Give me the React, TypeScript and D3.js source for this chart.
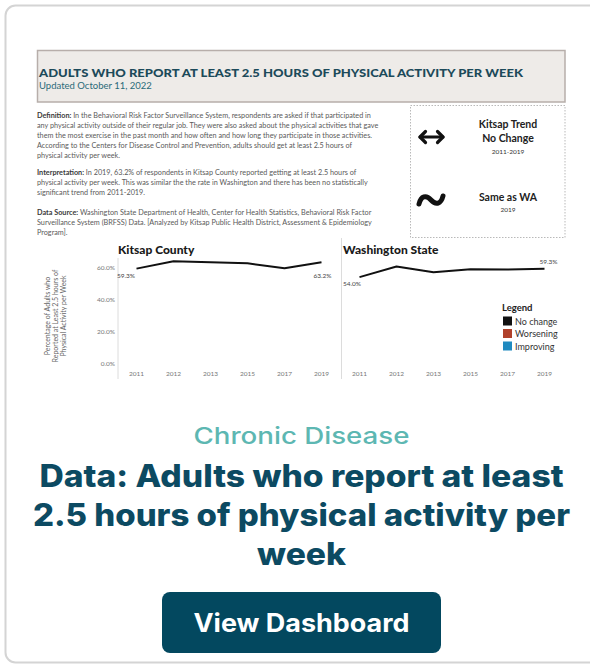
import React from "react";
import * as d3 from "d3";

const years = ["2011", "2012", "2013", "2015", "2017", "2019"];
const kitsapValues = [59.3, 63.9, 63.3, 62.6, 59.6, 63.2];
const waValues = [54.0, 60.6, 57.0, 58.9, 58.7, 59.3];
const yTicks = [0, 20, 40, 60];
const legendLabels = ["No change", "Worsening", "Improving"];
const legendColors = ["#111111", "#b0412b", "#1f8ac0"];

const headerTitle = "ADULTS WHO REPORT AT LEAST 2.5 HOURS OF PHYSICAL ACTIVITY PER WEEK";
const headerUpdated = "Updated October 11, 2022";

const definitionLines = [
  "In the Behavioral Risk Factor Surveillance System, respondents are asked if that participated in",
  "any physical activity outside of their regular job. They were also asked about the physical activities that gave",
  "them the most exercise in the past month and how often and how long they participate in those activities.",
  "According to the Centers for Disease Control and Prevention, adults should get at least 2.5 hours of",
  "physical activity per week.",
];
const interpretationLines = [
  "In 2019, 63.2% of respondents in Kitsap County reported getting at least 2.5 hours of",
  "physical activity per week. This was similar the the rate in Washington and there has been no statistically",
  "significant trend from 2011-2019.",
];
const dataSourceLines = [
  "Washington State Department of Health, Center for Health Statistics, Behavioral Risk Factor",
  "Surveillance System (BRFSS) Data. [Analyzed by Kitsap Public Health District, Assessment & Epidemiology",
  "Program].",
];
const yAxisTitleLines = [
  "Percentage of Adults who",
  "Reported at Least 2.5 hours of",
  "Physical Activity per Week",
];
const cardCategory = "Chronic Disease";
const cardTitleLines = [
  "Data: Adults who report at least",
  "2.5 hours of physical activity per",
  "week",
];
const cardTitleWidths = [524, 537, 89];
const buttonLabel = "View Dashboard";

const thumbFont = "Lato, 'Open Sans', sans-serif";
const cardFont = "Inter, 'Open Sans', sans-serif";

function Block({ label, lines, y0 }: { label: string; lines: string[]; y0: number }) {
  return (
    <g fontFamily={thumbFont} fontSize={7.25} fill="#5a5a5a">
      {lines.map((l, i) => (
        <text key={i} x={37} y={y0 + i * 10}>
          {i === 0 ? (
            <tspan fontWeight={700} fill="#3a3a3a">{label} </tspan>
          ) : null}
          {l}
        </text>
      ))}
    </g>
  );
}

export default function App() {
  const y = d3.scaleLinear().domain([0, 60]).range([364, 267.5]);
  const xK = d3.scalePoint<string>().domain(years).range([118, 340]).padding(0.5);
  const xW = d3.scalePoint<string>().domain(years).range([341, 563]).padding(0.5);
  const line = (xs: d3.ScalePoint<string>) =>
    d3
      .line<number>()
      .x((_, i) => xs(years[i]) as number)
      .y((v) => y(v))
      .curve(d3.curveLinear);
  const fmt = (v: number) => v.toFixed(1) + "%";
  const kLast = kitsapValues.length - 1;

  return (
    <svg
      width={590}
      height={666}
      style={{ position: "absolute", left: 0, top: 0, background: "#fff" }}
    >
      {/* card */}
      <rect x={5.5} y={5.5} width={640} height={657} rx={10} fill="#fff" stroke="#d4d4d4" strokeWidth={2} />

      {/* header box */}
      <rect x={37.5} y={50.5} width={527.5} height={51.5} fill="#eeebe8" stroke="#b7aeaa" strokeWidth={1.5} />
      <text x={39} y={76.5} fontFamily={thumbFont} fontWeight={900} fontSize={11.5} fill="#1c4a5a" textLength={484} lengthAdjust="spacingAndGlyphs">
        {headerTitle}
      </text>
      <text x={39} y={88.5} fontFamily={thumbFont} fontSize={9.5} fill="#2b6a78">
        {headerUpdated}
      </text>

      {/* text blocks */}
      <Block label="Definition:" lines={definitionLines} y0={117.5} />
      <Block label="Interpretation:" lines={interpretationLines} y0={174.5} />
      <Block label="Data Source:" lines={dataSourceLines} y0={214.5} />

      {/* trend box */}
      <rect x={410.5} y={105.5} width={154.5} height={132} fill="none" stroke="#b9b9b9" strokeWidth={1} strokeDasharray="1.5,1.5" />
      <g stroke="#111" strokeWidth={3.2} fill="none" strokeLinecap="round" strokeLinejoin="round">
        <path d="M420,137 L443,137" />
        <path d="M425.5,131.5 L420,137 L425.5,142.5" />
        <path d="M437.5,131.5 L443,137 L437.5,142.5" />
        <path d="M419,204 C421,196 426,194.5 431,200 C436,205.5 441,204 443,196" strokeWidth={5} />
      </g>
      <g fontFamily={thumbFont} textAnchor="middle" fill="#222">
        <text x={508} y={127.5} fontSize={10.5} fontWeight={700}>Kitsap Trend</text>
        <text x={508} y={141.5} fontSize={10.5} fontWeight={700}>No Change</text>
        <text x={508} y={154} fontSize={6.5} fill="#333">2011-2019</text>
        <text x={508} y={201} fontSize={10.5} fontWeight={700}>Same as WA</text>
        <text x={508} y={212} fontSize={6.5} fill="#333">2019</text>
      </g>

      {/* y axis title */}
      <g fontFamily={thumbFont} fontSize={7} fill="#666" textAnchor="middle">
        {yAxisTitleLines.map((t, i) => (
          <text key={i} transform={`translate(${49.5 + i * 8.3},316) rotate(-90)`}>
            {t}
          </text>
        ))}
      </g>

      {/* y ticks */}
      <g fontFamily={thumbFont} fontSize={6.5} fill="#777" textAnchor="end">
        {yTicks.map((t) => (
          <text key={t} x={115} y={y(t) + 2.3}>
            {t.toFixed(1)}%
          </text>
        ))}
      </g>

      {/* separators */}
      <line x1={118} x2={118} y1={258} y2={379} stroke="#dcdcdc" strokeWidth={1} />
      <line x1={341.5} x2={341.5} y1={238} y2={379} stroke="#dcdcdc" strokeWidth={1} />

      {/* titles */}
      <text x={118} y={254} fontFamily={thumbFont} fontWeight={900} fontSize={12} fill="#1a1a1a">Kitsap County</text>
      <text x={343} y={254} fontFamily={thumbFont} fontWeight={900} fontSize={12} fill="#1a1a1a">Washington State</text>

      {/* x labels */}
      <g fontFamily={thumbFont} fontSize={6.5} fill="#777" textAnchor="middle">
        {years.map((yr) => (
          <text key={"k" + yr} x={xK(yr)} y={375.5}>{yr}</text>
        ))}
        {years.map((yr) => (
          <text key={"w" + yr} x={xW(yr)} y={375.5}>{yr}</text>
        ))}
      </g>

      {/* lines */}
      <path d={line(xK)(kitsapValues) || ""} fill="none" stroke="#111" strokeWidth={2} strokeLinejoin="round" />
      <path d={line(xW)(waValues) || ""} fill="none" stroke="#111" strokeWidth={2} strokeLinejoin="round" />

      {/* value labels */}
      <g fontFamily={thumbFont} fontSize={6.5} fill="#444">
        <text x={117} y={y(kitsapValues[0]) + 9}>{fmt(kitsapValues[0])}</text>
        <text x={(xK(years[kLast]) as number) + 10} y={y(kitsapValues[kLast]) + 16} textAnchor="end">{fmt(kitsapValues[kLast])}</text>
        <text x={343} y={y(waValues[0]) + 8.5}>{fmt(waValues[0])}</text>
        <text x={(xW(years[kLast]) as number) + 13} y={y(waValues[kLast]) - 4.5} textAnchor="end">{fmt(waValues[kLast])}</text>
      </g>

      {/* legend */}
      <g fontFamily={thumbFont}>
        <text x={502} y={311} fontSize={9.5} fontWeight={700} fill="#222">Legend</text>
        {legendLabels.map((l, i) => (
          <g key={l}>
            <rect x={503} y={316.5 + i * 12.5} width={9} height={9} fill={legendColors[i]} />
            <text x={515} y={324.5 + i * 12.5} fontSize={9} fill="#333">{l}</text>
          </g>
        ))}
      </g>

      {/* card text */}
      <text x={301.5} y={444} textAnchor="middle" fontFamily={cardFont} fontWeight={500} fontSize={23} fill="#5db7b2" textLength={216} lengthAdjust="spacingAndGlyphs">
        {cardCategory}
      </text>
      {cardTitleLines.map((t, i) => (
        <text key={i} x={301.5} y={487 + i * 39} textAnchor="middle" fontFamily={cardFont} fontWeight={800} fontSize={31} fill="#0c4a62" textLength={cardTitleWidths[i]} lengthAdjust="spacingAndGlyphs">
          {t}
        </text>
      ))}

      {/* button */}
      <rect x={162} y={592} width={279} height={61} rx={8} fill="#03485f" />
      <text x={301.5} y={632} textAnchor="middle" fontFamily={cardFont} fontWeight={700} fontSize={25} fill="#fff" textLength={216} lengthAdjust="spacingAndGlyphs">
        {buttonLabel}
      </text>
    </svg>
  );
}
